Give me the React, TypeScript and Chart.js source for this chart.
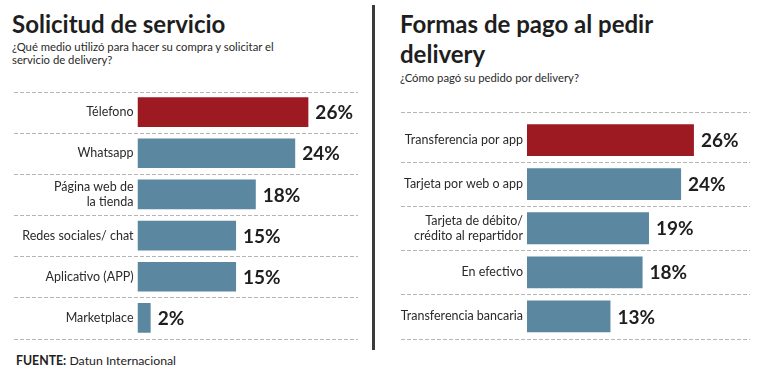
import React, { useEffect, useRef } from "react";
import { Chart, registerables } from "chart.js";

Chart.register(...registerables);

const leftCategories: (string | string[])[] = [
  "Télefono",
  "Whatsapp",
  ["Página web de", "la tienda"],
  "Redes sociales/ chat",
  "Aplicativo (APP)",
  "Marketplace",
];
const leftValues = [26, 24, 18, 15, 15, 2];

const rightCategories: (string | string[])[] = [
  "Transferencia por app",
  "Tarjeta por web o app",
  ["Tarjeta de débito/", "crédito al repartidor"],
  "En efectivo",
  "Transferencia bancaria",
];
const rightValues = [26, 24, 19, 18, 13];

const RED = "#9e1a23";
const BLUE = "#5b87a0";
const FONT = "Lato, 'Open Sans', sans-serif";

const separatorPlugin = {
  id: "separators",
  beforeDatasetsDraw(chart: any, _args: any, opts: any) {
    const y = chart.scales.y;
    const n = chart.data.labels.length;
    const ctx = chart.ctx;
    ctx.save();
    ctx.strokeStyle = "#b5b5b5";
    ctx.lineWidth = 1;
    ctx.setLineDash([4, 2]);
    for (let i = 0; i <= n; i++) {
      let py = Math.round(y.getPixelForValue(i - 0.5)) + 0.5;
      if (i === 0) py += opts.firstShift || 0;
      ctx.beginPath();
      ctx.moveTo(opts.x0, py);
      ctx.lineTo(opts.x1, py);
      ctx.stroke();
    }
    ctx.restore();
  },
};

const valuePlugin = {
  id: "values",
  afterDatasetsDraw(chart: any) {
    const meta = chart.getDatasetMeta(0);
    const data = chart.data.datasets[0].data;
    const ctx = chart.ctx;
    ctx.save();
    ctx.font = `700 19px ${FONT}`;
    ctx.fillStyle = "#1e1e1e";
    ctx.textAlign = "left";
    ctx.textBaseline = "middle";
    meta.data.forEach((bar: any, i: number) => {
      ctx.fillText(`${data[i]}%`, bar.x + 7, bar.y + 1);
    });
    ctx.restore();
  },
};

function makeConfig(
  labels: (string | string[])[],
  values: number[],
  axisWidth: number,
  padding: any,
  sep: any,
  pct: number
): any {
  return {
    type: "bar",
    data: {
      labels,
      datasets: [
        {
          data: values,
          backgroundColor: values.map((_, i) => (i === 0 ? RED : BLUE)),
          borderWidth: 0,
          categoryPercentage: 1,
          barPercentage: pct,
        },
      ],
    },
    options: {
      indexAxis: "y",
      responsive: false,
      animation: false,
      devicePixelRatio: 1,
      layout: { padding },
      plugins: {
        legend: { display: false },
        tooltip: { enabled: false },
        separators: sep,
      },
      scales: {
        x: { display: false, min: 0, max: 35 },
        y: {
          afterFit: (s: any) => {
            s.width = axisWidth;
          },
          grid: { display: false, drawTicks: false },
          border: { display: false },
          ticks: {
            padding: 4,
            color: "#2a2a2a",
            font: { family: FONT, size: 12.5, lineHeight: 1.2 },
          },
        },
      },
    },
    plugins: [separatorPlugin, valuePlugin],
  };
}

export default function App() {
  const leftRef = useRef<HTMLCanvasElement>(null);
  const rightRef = useRef<HTMLCanvasElement>(null);

  useEffect(() => {
    const c1 = new Chart(
      leftRef.current as HTMLCanvasElement,
      makeConfig(
        leftCategories,
        leftValues,
        137.5,
        { top: 8, bottom: 10, left: 0, right: 2.5 },
        { x0: 14, x1: 358, firstShift: 0 },
        0.72
      )
    );
    const c2 = new Chart(
      rightRef.current as HTMLCanvasElement,
      makeConfig(
        rightCategories,
        rightValues,
        137,
        { top: 18, bottom: 11, left: 0, right: 18.3 },
        { x0: 11, x1: 360, firstShift: -6 },
        0.72
      )
    );
    return () => {
      c1.destroy();
      c2.destroy();
    };
  }, []);

  const title: React.CSSProperties = {
    position: "absolute",
    fontSize: 24,
    fontWeight: 700,
    lineHeight: "30px",
    color: "#1e1e1e",
    whiteSpace: "nowrap",
    margin: 0,
  };
  const sub: React.CSSProperties = {
    position: "absolute",
    fontSize: 11.3,
    lineHeight: "13px",
    color: "#2a2a2a",
    whiteSpace: "nowrap",
  };

  return (
    <div
      style={{
        position: "absolute",
        left: 0,
        top: 0,
        width: 781,
        height: 372,
        background: "#fff",
        overflow: "hidden",
        fontFamily: FONT,
      }}
    >
      <div style={{ ...title, left: 12, top: 9 }}>Solicitud de servicio</div>
      <div style={{ ...sub, left: 12, top: 40 }}>
        ¿Qué medio utilizó para hacer su compra y solicitar el
        <br />
        servicio de delivery?
      </div>
      <div style={{ ...title, left: 400, top: 9 }}>
        Formas de pago al pedir
        <br />
        delivery
      </div>
      <div style={{ ...sub, left: 400, top: 71 }}>¿Cómo pagó su pedido por delivery?</div>
      <div
        style={{
          position: "absolute",
          left: 372,
          top: 5,
          width: 3,
          height: 345,
          background: "#3a3a3a",
        }}
      />
      <div style={{ ...sub, left: 16, top: 354, fontSize: 12.3, color: "#222" }}>
        <b>FUENTE:</b> Datun Internacional
      </div>
      <canvas
        ref={leftRef}
        width={370}
        height={270}
        style={{ position: "absolute", left: 0, top: 80, width: 370, height: 270 }}
      />
      <canvas
        ref={rightRef}
        width={380}
        height={250}
        style={{ position: "absolute", left: 390, top: 100, width: 380, height: 250 }}
      />
    </div>
  );
}
